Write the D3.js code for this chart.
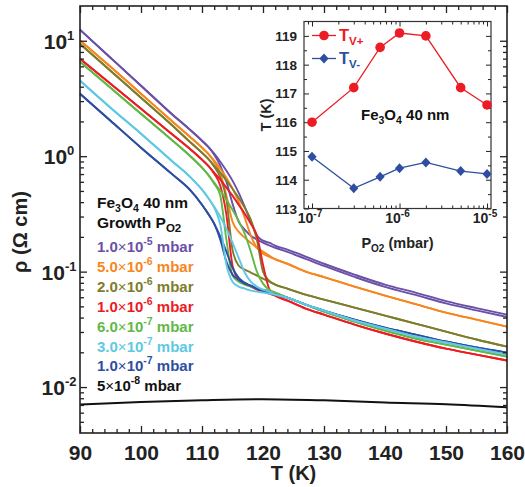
<!DOCTYPE html>
<html>
<head>
<meta charset="utf-8">
<script src="https://cdn.jsdelivr.net/npm/d3@7"></script>
<style>
  body { margin: 0; background: #fff; }
  svg text { font-family: "Liberation Sans", Arial, Helvetica, sans-serif; font-weight: bold; }
</style>
</head>
<body>
<svg id="chart" width="525" height="487"></svg>
<script>
// ---- Temperature grids (K) ----
const tLow = [90, 95, 100, 105, 108];
const tLoop = [110, 111, 112, 113, 114, 115, 116, 117, 118, 119, 120, 121, 122];
const tHigh = [124, 127, 130, 135, 140, 145, 150, 155, 160];

// ---- Resistivity (Ohm cm); warming / cooling branches differ around the Verwey transition ----
const p1e5Low  = [12.45, 7.13, 4.08, 2.33, 1.70];
const p1e5Warm = [1.362, 1.208, 1.051, 0.896, 0.749, 0.614, 0.483, 0.365, 0.271, 0.205, 0.1855, 0.178, 0.168];
const p1e5Cool = [1.362, 1.208, 1.030, 0.828, 0.602, 0.388, 0.271, 0.231, 0.205, 0.190, 0.178, 0.169, 0.161];
const p1e5High = [0.155, 0.135, 0.117, 0.0942, 0.0772, 0.0658, 0.0555, 0.0483, 0.0424];
const p1e5HighCool = [0.148, 0.129, 0.112, 0.0900, 0.0737, 0.0628, 0.0530, 0.0461, 0.0405];

const p5e6Low  = [10.06, 5.96, 3.48, 2.03, 1.475];
const p5e6Warm = [1.185, 1.051, 0.914, 0.779, 0.651, 0.523, 0.404, 0.294, 0.205, 0.161, 0.143, 0.135, 0.128];
const p5e6Cool = [1.185, 1.051, 0.896, 0.706, 0.455, 0.271, 0.222, 0.197, 0.178, 0.161, 0.149, 0.138, 0.128];
const p5e6High = [0.117, 0.100, 0.0896, 0.0742, 0.0620, 0.0523, 0.0442, 0.0384, 0.0334];

const p2e6Low  = [9.42, 5.50, 3.21, 1.874, 1.335];
const p2e6Warm = [1.072, 0.951, 0.828, 0.720, 0.614, 0.523, 0.437, 0.358, 0.282, 0.189, 0.100, 0.0836, 0.0772];
const p2e6Cool = [1.072, 0.951, 0.811, 0.651, 0.420, 0.155, 0.113, 0.104, 0.0982, 0.0923, 0.0870, 0.0819, 0.0772];
const p2e6High = [0.0713, 0.0632, 0.0572, 0.0488, 0.0416, 0.0355, 0.0302, 0.0258, 0.0224];

const p1e6Low  = [6.98, 4.24, 2.58, 1.566, 1.161];
const p1e6Warm = [0.933, 0.828, 0.720, 0.626, 0.534, 0.455, 0.380, 0.318, 0.260, 0.205, 0.115, 0.0713, 0.0620];
const p1e6Cool = [0.933, 0.828, 0.706, 0.555, 0.312, 0.113, 0.0852, 0.0787, 0.0742, 0.0698, 0.0671, 0.0645, 0.0620];
const p1e6High = [0.0561, 0.0478, 0.0424, 0.0348, 0.0291, 0.0248, 0.0215, 0.0191, 0.0170];

const p6e7Low  = [6.58, 3.92, 2.33, 1.390, 1.010];
const p6e7Warm = [0.795, 0.692, 0.590, 0.503, 0.420, 0.344, 0.276, 0.213, 0.149, 0.100, 0.0787, 0.0698, 0.0658];
const p6e7Cool = [0.795, 0.692, 0.578, 0.455, 0.189, 0.0923, 0.0819, 0.0772, 0.0742, 0.0713, 0.0698, 0.0685, 0.0658];
const p6e7High = [0.0596, 0.0518, 0.0450, 0.0369, 0.0308, 0.0263, 0.0233, 0.0207, 0.0184];

const p3e7Low  = [4.51, 2.63, 1.566, 0.914, 0.665];
const p3e7Warm = [0.513, 0.437, 0.365, 0.299, 0.236, 0.178, 0.132, 0.0982, 0.0819, 0.0742, 0.0698, 0.0671, 0.0632];
const p3e7Cool = [0.513, 0.437, 0.358, 0.255, 0.115, 0.0819, 0.0742, 0.0713, 0.0685, 0.0671, 0.0658, 0.0645, 0.0632];
const p3e7High = [0.0596, 0.0518, 0.0460, 0.0377, 0.0321, 0.0274, 0.0243, 0.0215, 0.0191];

const p1e7Low  = [3.48, 2.03, 1.185, 0.706, 0.513];
const p1e7Warm = [0.380, 0.318, 0.260, 0.201, 0.149, 0.108, 0.0887, 0.0803, 0.0756, 0.0713, 0.0685, 0.0658, 0.0632];
const p1e7Cool = [0.380, 0.318, 0.260, 0.189, 0.122, 0.0942, 0.0852, 0.0787, 0.0756, 0.0713, 0.0685, 0.0658, 0.0632];
const p1e7High = [0.0596, 0.0518, 0.0460, 0.0384, 0.0327, 0.0285, 0.0248, 0.0220, 0.0199];

// 5e-8 mbar film: metallic, no transition in range
const tBlack = [90, 100, 110, 120, 130, 140, 150, 160];
const p5e8 = [0.00706, 0.00742, 0.00769, 0.00786, 0.00767, 0.00734, 0.00709, 0.00668];

// ---- Legend ----
const legendMantissa = ["1.0", "5.0", "2.0", "1.0", "6.0", "3.0", "1.0", "5"];
const legendExponent = ["-5", "-6", "-6", "-6", "-7", "-7", "-7", "-8"];
const seriesColors = ["#6a50a7", "#f7861e", "#7d7d2b", "#ec1c24", "#62b846", "#5ec8e5", "#2e4ea1", "#111111"];

// ---- Inset: transition temperatures vs growth pressure ----
const insetP = [1e-7, 3e-7, 6e-7, 1e-6, 2e-6, 5e-6, 1e-5];
const tvPlus = [116.0, 117.2, 118.6, 119.1, 119.0, 117.2, 116.6];
const tvMinus = [114.8, 113.7, 114.1, 114.4, 114.6, 114.3, 114.2];

// ---- Tick values ----
const xMajor = [90, 100, 110, 120, 130, 140, 150, 160];
const yMajor = [0.01, 0.1, 1, 10];
const yMajorExp = ["-2", "-1", "0", "1"];
const insetYTicks = [113, 114, 115, 116, 117, 118, 119];
const insetXTicks = [1e-7, 1e-6, 1e-5];
const insetXExp = ["-7", "-6", "-5"];

// ================= drawing =================
const svg = d3.select("#chart");
const L = 80, R = 507, T = 6, B = 433;
const x = d3.scaleLinear().domain([90, 160]).range([L, R]);
const y = d3.scaleLog().domain([0.004, 20]).range([B, T]);
const axisColor = "#222";

// [low, warming loop, cooling loop, high (warming), high (cooling)]
const samples = [
  [p1e5Low, p1e5Warm, p1e5Cool, p1e5High, p1e5HighCool],
  [p5e6Low, p5e6Warm, p5e6Cool, p5e6High, p5e6High],
  [p2e6Low, p2e6Warm, p2e6Cool, p2e6High, p2e6High],
  [p1e6Low, p1e6Warm, p1e6Cool, p1e6High, p1e6High],
  [p6e7Low, p6e7Warm, p6e7Cool, p6e7High, p6e7High],
  [p3e7Low, p3e7Warm, p3e7Cool, p3e7High, p3e7High],
  [p1e7Low, p1e7Warm, p1e7Cool, p1e7High, p1e7High]
];

function branch(low, mid, high) {
  return [
    ...tLow.map((t, i) => [t, low[i]]),
    ...tLoop.map((t, i) => [t, mid[i]]),
    ...tHigh.map((t, i) => [t, high[i]])
  ];
}

const line = d3.line().x(d => x(d[0])).y(d => y(d[1])).curve(d3.curveMonotoneX);

const plot = svg.append("g");
// blue before cyan so cyan sits on top at high T
const order = [0, 1, 2, 3, 4, 6, 5];
order.forEach(k => {
  const [low, warm, cool, highW, highC] = samples[k];
  [[warm, highW], [cool, highC]].forEach(([mid, high]) => {
    plot.append("path")
      .datum(branch(low, mid, high))
      .attr("d", line)
      .attr("fill", "none")
      .attr("stroke", seriesColors[k])
      .attr("stroke-width", 1.9);
  });
});
plot.append("path")
  .datum(tBlack.map((t, i) => [t, p5e8[i]]))
  .attr("d", line)
  .attr("fill", "none")
  .attr("stroke", seriesColors[7])
  .attr("stroke-width", 2);

// ---- main axes ----
function styleAxis(g) {
  g.select(".domain").remove();
  g.selectAll(".tick line").attr("stroke", axisColor).attr("stroke-width", 1.3);
}
const xMinor = d3.range(92, 160, 2).filter(v => v % 10 !== 0);
const yMinor = [];
[0.001, 0.01, 0.1, 1, 10].forEach(dec => { for (let m = 2; m <= 9; m++) { const v = m * dec; if (v > 0.004 && v < 20) yMinor.push(v); } });

svg.append("g").attr("transform", `translate(0,${B})`)
  .call(d3.axisBottom(x).tickValues(xMajor).tickSize(-7).tickPadding(12).tickFormat(d3.format("d")))
  .call(styleAxis)
  .call(g => g.selectAll("text").attr("font-size", 21).attr("font-family", null).attr("fill", "#222"));
svg.append("g").attr("transform", `translate(0,${B})`)
  .call(d3.axisBottom(x).tickValues(xMinor).tickSize(-4).tickFormat(""))
  .call(styleAxis);
svg.append("g").attr("transform", `translate(0,${T})`)
  .call(d3.axisTop(x).tickValues(xMajor).tickSize(-7).tickFormat(""))
  .call(styleAxis);
svg.append("g").attr("transform", `translate(0,${T})`)
  .call(d3.axisTop(x).tickValues(xMinor).tickSize(-4).tickFormat(""))
  .call(styleAxis);
svg.append("g").attr("transform", `translate(${L},0)`)
  .call(d3.axisLeft(y).tickValues(yMajor).tickSize(-7).tickFormat(""))
  .call(styleAxis);
svg.append("g").attr("transform", `translate(${L},0)`)
  .call(d3.axisLeft(y).tickValues(yMinor).tickSize(-4).tickFormat(""))
  .call(styleAxis);
svg.append("g").attr("transform", `translate(${R},0)`)
  .call(d3.axisRight(y).tickValues(yMajor).tickSize(-7).tickFormat(""))
  .call(styleAxis);
svg.append("g").attr("transform", `translate(${R},0)`)
  .call(d3.axisRight(y).tickValues(yMinor).tickSize(-4).tickFormat(""))
  .call(styleAxis);

svg.append("rect")
  .attr("x", L).attr("y", T).attr("width", R - L).attr("height", B - T)
  .attr("fill", "none").attr("stroke", axisColor).attr("stroke-width", 1.6);

// y tick labels: 10^n
yMajor.forEach((v, i) => {
  const t = svg.append("text").attr("x", 59).attr("y", y(v) + 8)
    .attr("text-anchor", "middle").attr("font-size", 21).attr("fill", "#222");
  t.append("tspan").text("10");
  t.append("tspan").attr("dy", -9).attr("font-size", 13).text(yMajorExp[i]);
});

// axis titles
svg.append("text").attr("x", (L + R) / 2).attr("y", 480).attr("text-anchor", "middle")
  .attr("font-size", 20).attr("fill", "#222").text("T (K)");
svg.append("text").attr("transform", "translate(27,232) rotate(-90)").attr("text-anchor", "middle")
  .attr("font-size", 20).attr("fill", "#222").text("ρ (Ω cm)");

// sub / superscript helper
function rich(sel, parts) {
  parts.forEach(([txt, kind, size]) => {
    const sp = sel.append("tspan").text(txt);
    if (kind === "sub") sp.attr("dy", 4).attr("font-size", size);
    else if (kind === "sup") sp.attr("dy", -7).attr("font-size", size);
    else if (kind === "back") sp.attr("dy", -4);
    else if (kind === "down") sp.attr("dy", 7);
  });
  return sel;
}

// main legend
const lg = svg.append("g");
rich(lg.append("text").attr("x", 97).attr("y", 208).attr("font-size", 15.5).attr("fill", "#111"),
  [["Fe"], ["3", "sub", 10.5], ["O", "back"], ["4", "sub", 10.5], [" 40 nm", "back"]]);
rich(lg.append("text").attr("x", 97).attr("y", 228).attr("font-size", 15.5).attr("fill", "#111"),
  [["Growth P"], ["O2", "sub", 11.5]]);
legendMantissa.forEach((m, i) => {
  const t = lg.append("text").attr("x", 97).attr("y", 252 + i * 19.9)
    .attr("font-size", 15).attr("fill", seriesColors[i]);
  t.append("tspan").text(m);
  t.append("tspan").attr("font-weight", "normal").text("×");
  t.append("tspan").text("10");
  t.append("tspan").attr("dy", -7).attr("font-size", 10.5).text(legendExponent[i]);
  t.append("tspan").attr("dy", 7).text(" mbar");
});

// ================= inset =================
const iL = 304, iR = 491, iT = 21.5, iB = 208.5;
const xi = d3.scaleLog().domain([8.1e-8, 1.11e-5]).range([iL, iR]);
const yi = d3.scaleLinear().domain([113, 119.5]).range([iB, iT]);
const inset = svg.append("g");
inset.append("rect").attr("x", iL).attr("y", iT).attr("width", iR - iL).attr("height", iB - iT)
  .attr("fill", "#fff");

const ixMinor = [];
[1e-8, 1e-7, 1e-6].forEach(dec => { for (let m = 2; m <= 9; m++) { const v = m * dec; if (v > 8.1e-8 && v < 1.11e-5) ixMinor.push(v); } });
const iyMinor = d3.range(113.5, 119.5, 1);

function insetAxis(axisFn, scale, pos, vals, size) {
  inset.append("g").attr("transform", pos)
    .call(axisFn(scale).tickValues(vals).tickSize(size).tickFormat(""))
    .call(styleAxis)
    .call(g => g.selectAll(".tick line").attr("stroke-width", 1));
}
insetAxis(d3.axisBottom, xi, `translate(0,${iB})`, insetXTicks, -5);
insetAxis(d3.axisBottom, xi, `translate(0,${iB})`, ixMinor, -3);
insetAxis(d3.axisTop, xi, `translate(0,${iT})`, insetXTicks, -5);
insetAxis(d3.axisTop, xi, `translate(0,${iT})`, ixMinor, -3);
insetAxis(d3.axisLeft, yi, `translate(${iL},0)`, insetYTicks, -5);
insetAxis(d3.axisLeft, yi, `translate(${iL},0)`, iyMinor, -3);
insetAxis(d3.axisRight, yi, `translate(${iR},0)`, insetYTicks, -5);
insetAxis(d3.axisRight, yi, `translate(${iR},0)`, iyMinor, -3);

inset.append("rect").attr("x", iL).attr("y", iT).attr("width", iR - iL).attr("height", iB - iT)
  .attr("fill", "none").attr("stroke", "#333").attr("stroke-width", 1.2);

insetYTicks.forEach(v => {
  inset.append("text").attr("x", 297).attr("y", yi(v) + 5).attr("text-anchor", "end")
    .attr("font-size", 13.5).attr("fill", "#222").text(v);
});
insetXTicks.forEach((v, i) => {
  const t = inset.append("text").attr("x", xi(v) - 2).attr("y", 223).attr("text-anchor", "middle")
    .attr("font-size", 14).attr("fill", "#222");
  t.append("tspan").text("10");
  t.append("tspan").attr("dy", -6).attr("font-size", 10).text(insetXExp[i]);
});
rich(inset.append("text").attr("x", (iL + iR) / 2).attr("y", 248).attr("text-anchor", "middle")
  .attr("font-size", 14.5).attr("fill", "#222"),
  [["P"], ["O2", "sub", 10], [" (mbar)", "back"]]);
inset.append("text").attr("transform", "translate(271,115) rotate(-90)").attr("text-anchor", "middle")
  .attr("font-size", 14.5).attr("fill", "#222").text("T (K)");
rich(inset.append("text").attr("x", 361).attr("y", 120).attr("font-size", 15).attr("fill", "#111"),
  [["Fe"], ["3", "sub", 10.5], ["O", "back"], ["4", "sub", 10.5], [" 40 nm", "back"]]);

const red = "#ec1c24", blue = "#2e4ea1";
const iline = d3.line().x(d => xi(d[0])).y(d => yi(d[1]));
const plusPts = insetP.map((p, i) => [p, tvPlus[i]]);
const minusPts = insetP.map((p, i) => [p, tvMinus[i]]);
inset.append("path").datum(plusPts).attr("d", iline).attr("fill", "none").attr("stroke", red).attr("stroke-width", 1.3);
inset.append("path").datum(minusPts).attr("d", iline).attr("fill", "none").attr("stroke", blue).attr("stroke-width", 1.3);
inset.selectAll("circle.tvp").data(plusPts).join("circle")
  .attr("cx", d => xi(d[0])).attr("cy", d => yi(d[1])).attr("r", 4.8).attr("fill", red);
function diamond(cx, cy, w, h) { return `M${cx},${cy - h}L${cx + w},${cy}L${cx},${cy + h}L${cx - w},${cy}Z`; }
inset.selectAll("path.tvm").data(minusPts).join("path")
  .attr("d", d => diamond(xi(d[0]), yi(d[1]), 4.6, 5)).attr("fill", blue);

// inset legend
inset.append("line").attr("x1", 312).attr("x2", 336).attr("y1", 35.5).attr("y2", 35.5).attr("stroke", red).attr("stroke-width", 1.3);
inset.append("circle").attr("cx", 324).attr("cy", 35.5).attr("r", 4.8).attr("fill", red);
rich(inset.append("text").attr("x", 339).attr("y", 41).attr("font-size", 16.5).attr("fill", red),
  [["T"], ["V+", "sub", 11.5]]);
inset.append("line").attr("x1", 312).attr("x2", 336).attr("y1", 58.5).attr("y2", 58.5).attr("stroke", blue).attr("stroke-width", 1.3);
inset.append("path").attr("d", diamond(324, 58.5, 4.6, 5)).attr("fill", blue);
rich(inset.append("text").attr("x", 339).attr("y", 64).attr("font-size", 16.5).attr("fill", blue),
  [["T"], ["V-", "sub", 11.5]]);
</script>
</body>
</html>
